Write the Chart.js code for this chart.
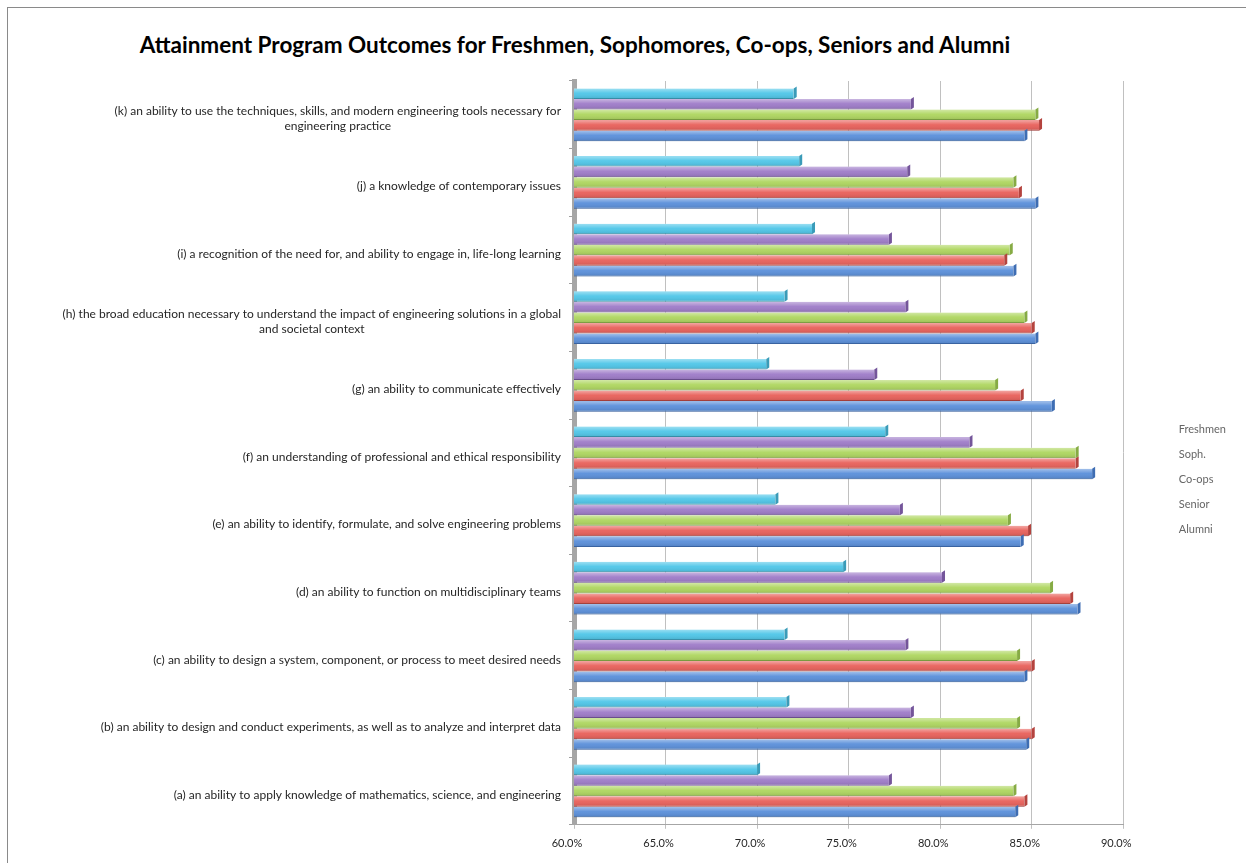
<!DOCTYPE html>
<html>
<head>
<meta charset="utf-8">
<script src="https://cdn.jsdelivr.net/npm/chart.js@4.4.1/dist/chart.umd.min.js"></script>
<style>
  html, body { margin: 0; padding: 0; background: #fff; overflow: hidden; }
  #frame { position: absolute; left: 7px; top: 7px; width: 1238px; height: 870px; border: 1px solid #8a8a8a; }
  #title { position: absolute; left: 0; top: 31px; width: 1150px; text-align: center;
           font: bold 22.5px Lato, sans-serif; color: #000; }
  #wrap { position: absolute; left: 0; top: 0; width: 1246px; height: 863px; }
</style>
</head>
<body>
<div id="frame"></div>
<div id="title">Attainment Program Outcomes for Freshmen, Sophomores, Co-ops, Seniors and Alumni</div>
<div id="wrap"><canvas id="myChart"></canvas></div>
<script>
const categories = [
  '(a) an ability to apply knowledge of mathematics, science, and engineering',
  '(b) an ability to design and conduct experiments, as well as to analyze and interpret data',
  '(c) an ability to design a system, component, or process to meet desired needs',
  '(d) an ability to function on multidisciplinary teams',
  '(e) an ability to identify, formulate, and solve engineering problems',
  '(f) an understanding of professional and ethical responsibility',
  '(g) an ability to communicate effectively',
  ['(h) the broad education necessary to understand the impact of engineering solutions in a global', 'and societal context'],
  '(i) a recognition of the need for, and ability to engage in, life-long learning',
  '(j) a knowledge of contemporary issues',
  ['(k) an ability to use the techniques, skills, and modern engineering tools necessary for', 'engineering practice']
];

// percent, categories (a)..(k)
const freshmen = [84.1, 84.7, 84.6, 87.5, 84.4, 88.3, 86.1, 85.2, 84.0, 85.2, 84.6];
const soph     = [84.6, 85.0, 85.0, 87.1, 84.8, 87.4, 84.4, 85.0, 83.5, 84.3, 85.4];
const coops    = [84.0, 84.2, 84.2, 86.0, 83.7, 87.4, 83.0, 84.6, 83.8, 84.0, 85.2];
const senior   = [77.2, 78.4, 78.1, 80.1, 77.8, 81.6, 76.4, 78.1, 77.2, 78.2, 78.4];
const alumni   = [70.0, 71.6, 71.5, 74.7, 71.0, 77.0, 70.5, 71.5, 73.0, 72.3, 72.0];

const xTicks = [60, 65, 70, 75, 80, 85, 90];

const labelFont = '12px Lato, sans-serif';

// glossy shading + little dark end cap, placed from the bar elements
const bevel = {
  id: 'bevel',
  afterDatasetsDraw(chart) {
    const c = chart.ctx;
    const left = chart.chartArea.left;
    chart.data.datasets.forEach((ds, di) => {
      chart.getDatasetMeta(di).data.forEach(bar => {
        const {x, y, height} = bar.getProps(['x', 'y', 'height'], true);
        const top = y - height / 2, bot = y + height / 2;
        const g = c.createLinearGradient(0, top, 0, bot);
        g.addColorStop(0, 'rgba(255,255,255,0.45)');
        g.addColorStop(0.45, 'rgba(255,255,255,0.05)');
        g.addColorStop(1, 'rgba(0,0,0,0.12)');
        c.save();
        c.fillStyle = g;
        c.fillRect(left, top, x - left, height);
        c.fillStyle = ds.borderColor;
        c.beginPath();
        c.moveTo(x, top);
        c.lineTo(x + 3, top - 2);
        c.lineTo(x + 3, bot - 2);
        c.lineTo(x, bot);
        c.closePath();
        c.fill();
        c.restore();
      });
    });
  }
};

// category labels: block right-aligned at the axis, lines centred within the block
const catLabels = {
  id: 'catLabels',
  afterDraw(chart) {
    const c = chart.ctx;
    const yScale = chart.scales.y;
    const right = chart.chartArea.left - 13;
    c.save();
    c.font = labelFont;
    c.fillStyle = '#262626';
    c.textAlign = 'center';
    c.textBaseline = 'middle';
    categories.forEach((lab, i) => {
      const lines = Array.isArray(lab) ? lab : [lab];
      const w = Math.max(...lines.map(l => c.measureText(l).width));
      const cx = right - w / 2;
      const cy = yScale.getPixelForValue(i) + 4;
      const lh = 15;
      lines.forEach((l, k) => {
        c.fillText(l, cx, cy + (k - (lines.length - 1) / 2) * lh);
      });
    });
    c.restore();
  }
};

const ctx = document.getElementById('myChart');
new Chart(ctx, {
  type: 'bar',
  data: {
    labels: categories,
    datasets: [
      { label: 'Alumni',   data: alumni,   backgroundColor: '#4FC6E8', borderColor: '#3A9BB8' },
      { label: 'Senior',   data: senior,   backgroundColor: '#9E7BC8', borderColor: '#74559A' },
      { label: 'Co-ops',   data: coops,    backgroundColor: '#AED65F', borderColor: '#86AB44' },
      { label: 'Soph.',    data: soph,     backgroundColor: '#E8605A', borderColor: '#B4433E' },
      { label: 'Freshmen', data: freshmen, backgroundColor: '#5A8FDA', borderColor: '#3E6DB3' }
    ]
  },
  options: {
    indexAxis: 'y',
    responsive: true,
    maintainAspectRatio: false,
    animation: false,
    categoryPercentage: 0.78,
    barPercentage: 1.0,
    borderWidth: { top: 0, bottom: 1, left: 0, right: 0 },
    layout: { padding: { left: 569, top: 81, right: 10, bottom: 5 } },
    scales: {
      x: {
        min: 60, max: 90,
        afterBuildTicks: s => { s.ticks = xTicks.map(v => ({ value: v })); },
        ticks: {
          callback: v => v.toFixed(1) + '%',
          font: { family: 'Lato', size: 11 },
          color: '#262626',
          padding: 8,
          labelOffset: -7
        },
        grid: { color: '#C0C0C0', tickLength: 4 },
        border: { color: '#A6A6A6' }
      },
      y: {
        reverse: true,
        ticks: { display: false },
        grid: { drawOnChartArea: false, drawTicks: true, tickLength: 5, color: '#A0A0A0' },
        border: { color: '#A6A6A6', width: 5 }
      },
      gap: {
        type: 'linear',
        position: 'right',
        grid: { display: false },
        ticks: { display: false },
        border: { display: false },
        afterFit: s => { s.width = 36; }
      }
    },
    plugins: {
      title: { display: false },
      tooltip: { enabled: false },
      legend: {
        position: 'right',
        reverse: true,
        title: { display: true, text: ' ', font: { size: 1 }, padding: { top: 18, bottom: 0 } },
        labels: {
          boxWidth: 0,
          boxHeight: 0,
          padding: 14,
          color: '#404040',
          font: { family: 'Lato', size: 11 },
          generateLabels: chart => chart.data.datasets.map((d, i) => ({
            text: d.label,
            fillStyle: 'rgba(0,0,0,0)',
            strokeStyle: 'rgba(0,0,0,0)',
            lineWidth: 0,
            hidden: false,
            datasetIndex: i
          }))
        }
      }
    }
  },
  plugins: [bevel, catLabels]
});
</script>
</body>
</html>
